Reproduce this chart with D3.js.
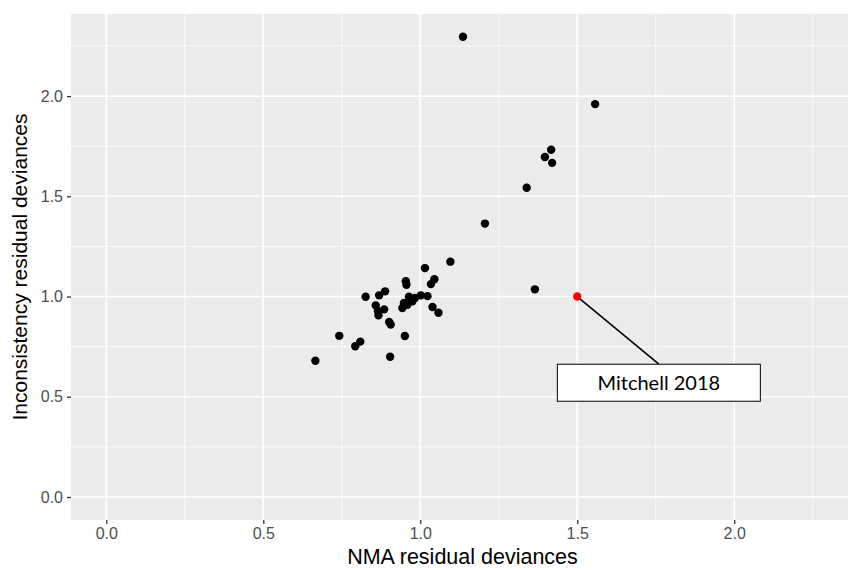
<!DOCTYPE html>
<html>
<head>
<meta charset="utf-8">
<script src="https://cdn.jsdelivr.net/npm/d3@7"></script>
<style>
body { margin: 0; background: #fff; }
</style>
</head>
<body>
<div id="chart"></div>
<script>
// NMA vs inconsistency residual deviances (one point per study)
const nmaDev = [1.136, 1.557, 1.417, 1.397, 1.420, 1.339, 1.206, 1.096, 1.365,
  1.015, 1.045, 1.034, 0.954, 0.956, 0.826, 0.869, 0.888, 0.964, 1.002, 1.023,
  0.975, 0.959, 0.943, 0.858, 0.885, 0.867, 1.039, 1.058, 0.901, 0.906, 0.865,
  0.951, 0.742, 0.809, 0.793, 0.904, 0.666, 0.983, 0.948];
const incDev = [2.296, 1.960, 1.732, 1.696, 1.667, 1.543, 1.364, 1.174, 1.036,
  1.142, 1.086, 1.062, 1.076, 1.059, 0.999, 1.006, 1.026, 0.999, 1.006, 1.002,
  0.976, 0.959, 0.943, 0.956, 0.936, 0.906, 0.948, 0.919, 0.873, 0.860, 0.928,
  0.803, 0.804, 0.775, 0.752, 0.700, 0.680, 0.993, 0.968];

const highlight = {name: "Mitchell 2018", x: 1.5, y: 1.0, labelX: 1.76, labelY: 0.57};

const xTicks = [0, 0.5, 1.0, 1.5, 2.0];
const yTicks = [0, 0.5, 1.0, 1.5, 2.0];
const xMinor = [0.25, 0.75, 1.25, 1.75, 2.25];
const yMinor = [0.25, 0.75, 1.25, 1.75, 2.25];

const width = 851, height = 570;
const margin = {top: 14, right: 3, bottom: 50, left: 71};

const svg = d3.select("#chart").append("svg")
  .attr("width", width)
  .attr("height", height);

// expanded limits like ggplot (5% each side)
const x = d3.scaleLinear()
  .domain([-0.1125, 2.3625])
  .range([margin.left, width - margin.right]);
const y = d3.scaleLinear()
  .domain([-0.1148, 2.4096])
  .range([height - margin.bottom, margin.top]);

const pw = width - margin.right - margin.left;
const ph = height - margin.bottom - margin.top;

svg.append("rect")
  .attr("x", margin.left).attr("y", margin.top)
  .attr("width", pw).attr("height", ph)
  .attr("fill", "#ebebeb");

const grid = svg.append("g");
grid.selectAll(".xminor").data(xMinor).join("line")
  .attr("x1", d => x(d)).attr("x2", d => x(d))
  .attr("y1", margin.top).attr("y2", margin.top + ph)
  .attr("stroke", "#fff").attr("stroke-width", 0.8);
grid.selectAll(".yminor").data(yMinor).join("line")
  .attr("y1", d => y(d)).attr("y2", d => y(d))
  .attr("x1", margin.left).attr("x2", margin.left + pw)
  .attr("stroke", "#fff").attr("stroke-width", 0.8);
grid.selectAll(".xmajor").data(xTicks).join("line")
  .attr("x1", d => x(d)).attr("x2", d => x(d))
  .attr("y1", margin.top).attr("y2", margin.top + ph)
  .attr("stroke", "#fff").attr("stroke-width", 1.6);
grid.selectAll(".ymajor").data(yTicks).join("line")
  .attr("y1", d => y(d)).attr("y2", d => y(d))
  .attr("x1", margin.left).attr("x2", margin.left + pw)
  .attr("stroke", "#fff").attr("stroke-width", 1.6);

// axes
const xAxis = svg.append("g")
  .attr("transform", `translate(0,${margin.top + ph})`)
  .call(d3.axisBottom(x).tickValues(xTicks).tickFormat(d3.format(".1f")).tickSize(4).tickPadding(4));
const yAxis = svg.append("g")
  .attr("transform", `translate(${margin.left},0)`)
  .call(d3.axisLeft(y).tickValues(yTicks).tickFormat(d3.format(".1f")).tickSize(4).tickPadding(4));

[xAxis, yAxis].forEach(a => {
  a.select(".domain").remove();
  a.selectAll(".tick line").attr("stroke", "#333").attr("stroke-width", 1.3);
  a.selectAll(".tick text")
    .attr("fill", "#4d4d4d")
    .attr("font-family", "Liberation Sans, Arial, sans-serif")
    .attr("font-size", 16);
});

svg.append("text")
  .attr("x", margin.left + pw / 2 + 3)
  .attr("y", 564)
  .attr("text-anchor", "middle")
  .attr("font-family", "Liberation Sans, Arial, sans-serif")
  .attr("font-size", 21.5)
  .attr("fill", "#000")
  .text("NMA residual deviances");

svg.append("text")
  .attr("transform", `translate(27,${margin.top + ph / 2}) rotate(-90)`)
  .attr("text-anchor", "middle")
  .attr("font-family", "Liberation Sans, Arial, sans-serif")
  .attr("font-size", 21)
  .attr("fill", "#000")
  .text("Inconsistency residual deviances");

// points
svg.append("g").selectAll("circle")
  .data(d3.zip(nmaDev, incDev))
  .join("circle")
  .attr("cx", d => x(d[0]))
  .attr("cy", d => y(d[1]))
  .attr("r", 4.2)
  .attr("fill", "#000");

// highlighted study + label
const lbl = svg.append("g");
const bw = 203, bh = 37;
const lx = x(highlight.labelX), ly = y(highlight.labelY);
lbl.append("line")
  .attr("x1", x(highlight.x)).attr("y1", y(highlight.y))
  .attr("x2", lx).attr("y2", ly - bh / 2)
  .attr("stroke", "#000").attr("stroke-width", 1.6);
lbl.append("circle")
  .attr("cx", x(highlight.x)).attr("cy", y(highlight.y))
  .attr("r", 4.2).attr("fill", "#ff0000");
lbl.append("rect")
  .attr("x", lx - bw / 2).attr("y", ly - bh / 2)
  .attr("width", bw).attr("height", bh)
  .attr("fill", "#fff").attr("stroke", "#000").attr("stroke-width", 1);
lbl.append("text")
  .attr("x", lx).attr("y", ly + 7)
  .attr("text-anchor", "middle")
  .attr("font-family", "Lato, Open Sans, sans-serif")
  .attr("font-size", 20)
  .attr("fill", "#000")
  .text(highlight.name);
</script>
</body>
</html>
